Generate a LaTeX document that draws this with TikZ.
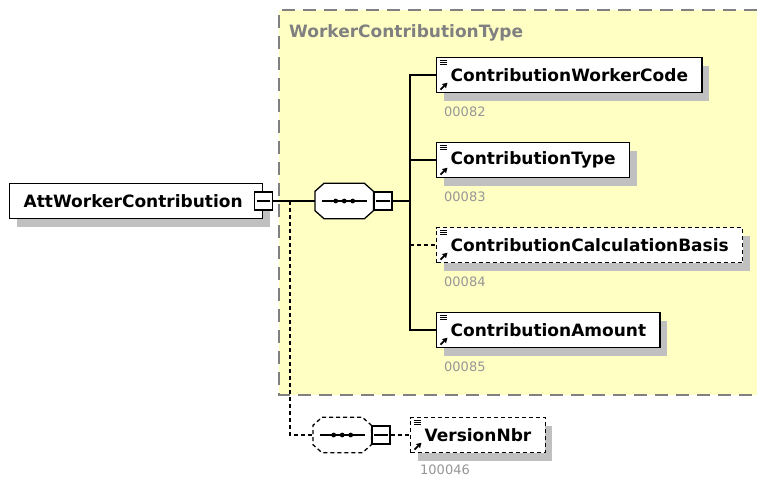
\documentclass[tikz,border=0pt]{standalone}
\usepackage{fontspec}
\setmainfont{DejaVu Sans}
\usetikzlibrary{shadows,calc,arrows.meta}
\definecolor{bgyellow}{RGB}{255,255,196}
\definecolor{shadowgray}{RGB}{192,192,192}
\definecolor{titlegray}{RGB}{128,128,128}
\definecolor{numgray}{RGB}{150,150,150}
\newcommand\elemicons[1]{%
  \draw[line width=0.7pt] ($(#1.north west)+(4,3.5)$) -- ++(7,0);
  \draw[line width=0.7pt] ($(#1.north west)+(4,5.5)$) -- ++(7,0);
  \draw[line width=0.7pt] ($(#1.north west)+(4,7.5)$) -- ++(7,0);
  \draw[line width=1.8pt,-{Triangle[length=5pt,width=5.5pt]}] ($(#1.south west)+(4.5,-3.5)$) -- ++(7,-7);
}
\newcommand\octpath[1]{%
  ($(#1.north west)+(9,0)$) -- ($(#1.north east)+(-9,0)$) -- ($(#1.north east)+(0,8)$) --
  ($(#1.south east)+(0,-8)$) -- ($(#1.south east)+(-9,0)$) -- ($(#1.south west)+(9,0)$) --
  ($(#1.south west)+(0,-8)$) -- ($(#1.north west)+(0,8)$) -- cycle}
\newcommand\seqsymbol[2]{%
  \fill[shadowgray, shift={(7,8)}] \octpath{#1};
  \filldraw[fill=white, draw=black, line width=1.3pt, #2] \octpath{#1};
  \draw[line width=1.2pt] ($(#1.center)+(-22,0)$) -- ($(#1.center)+(23,0)$);
  \foreach \dx in {-8.5,0,8.5} \fill ($(#1.center)+(\dx,0)$) circle (2.4pt);
}
\begin{document}
\begin{tikzpicture}[x=1pt,y=-1pt,
  elem/.style={draw=black, line width=1.3pt, fill=white, minimum height=35pt,
    inner xsep=14pt, inner ysep=0pt, font=\fontsize{17}{20}\selectfont\bfseries,
    general shadow={fill=shadowgray, shadow xshift=7pt, shadow yshift=-8pt}},
  optelem/.style={elem, dash pattern=on 4pt off 3pt},
  seqnode/.style={draw=none, minimum width=58pt, minimum height=35pt, inner sep=0pt},
  minusbox/.style={draw=black, line width=1.3pt, fill=white, minimum size=18pt, inner sep=0pt},
  conn/.style={line width=1.3pt, black},
  optconn/.style={conn, dash pattern=on 4pt off 3pt},
  numlbl/.style={font=\fontsize{13}{15}\selectfont, text=numgray, inner sep=0pt, anchor=west},
]
\useasboundingbox (0,0) rectangle (757,477);
% type area
\fill[bgyellow] (279,10) rectangle (757,395);
\draw[titlegray, line width=1.5pt, dash pattern=on 13pt off 8pt] (757,10) -- (279,10) -- (279,395) -- (757,395);
\node[anchor=west, inner sep=0pt, text=titlegray, font=\fontsize{17}{20}\selectfont\bfseries] (title) at (289,33) {WorkerContributionType};

% root
\node[elem, anchor=west, minimum width=253pt] (att) at (9,201) {AttWorkerContribution\hspace*{6pt}};
\node[minusbox] (m1) at (att.east) {};
\draw[line width=1.3pt] ($(m1.west)+(3,0)$) -- ($(m1.east)+(-3,0)$);

% sequence 1
\node[seqnode, anchor=west] (seq1) at (315,201) {};
\seqsymbol{seq1}{}
\node[minusbox, anchor=west] (m2) at (seq1.east) {};
\draw[line width=1.3pt] ($(m2.west)+(3,0)$) -- ($(m2.east)+(-3,0)$);

% children
\node[elem, anchor=west] (cwc) at (436,75) {ContributionWorkerCode};
\node[elem, anchor=west] (ct) at (436,160) {ContributionType};
\node[optelem, anchor=west] (ccb) at (436,245) {ContributionCalculationBasis};
\node[elem, anchor=west] (cam) at (436,330) {ContributionAmount};
\elemicons{cwc}\elemicons{ct}\elemicons{ccb}\elemicons{cam}
\node[numlbl] (n82) at (444,112) {00082};
\node[numlbl] (n83) at (444,197) {00083};
\node[numlbl] (n84) at (444,282) {00084};
\node[numlbl] (n85) at (444,367) {00085};

% sequence 2
\node[seqnode, anchor=west] (seq2) at (313,435) {};
\seqsymbol{seq2}{dash pattern=on 4pt off 3pt}
\node[minusbox, anchor=west] (m3) at (seq2.east) {};
\draw[line width=1.3pt] ($(m3.west)+(3,0)$) -- ($(m3.east)+(-3,0)$);
\node[optelem, anchor=west] (vn) at (410,435) {VersionNbr};
\elemicons{vn}
\node[numlbl] (n46) at (420,469.5) {100046};

% connectors
\coordinate (spine) at (410,201);
\coordinate (d0) at (290,201);
\draw[conn] (m1.east) -- (seq1.west);
\draw[conn] (m2.east) -- (spine);
\draw[conn] (spine) |- (cwc.west);
\draw[conn] (spine) |- (ct.west);
\draw[conn] (spine) |- (cam.west);
\draw[optconn] (ccb.west -| spine) -- (ccb.west);
\draw[optconn] (d0) |- (seq2.west);
\draw[optconn] (m3.east) -- (vn.west);
\end{tikzpicture}
\end{document}
